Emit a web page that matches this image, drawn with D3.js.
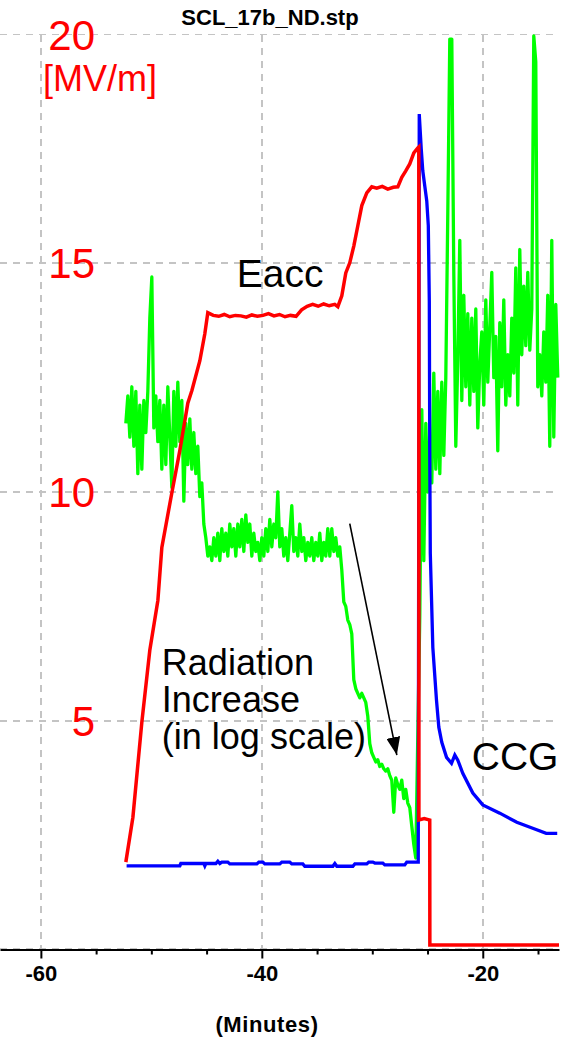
<!DOCTYPE html>
<html>
<head>
<meta charset="utf-8">
<script src="https://cdn.jsdelivr.net/npm/d3@7"></script>
<style>
  html, body { margin: 0; padding: 0; background: #fff; }
  svg { display: block; }
</style>
</head>
<body>
<svg id="chart" width="567" height="1038"></svg>
<script>
// ---- Data -------------------------------------------------------------
// Accelerating field Eacc [MV/m] vs time [minutes]
const eaccTime = [-52.31,-51.67,-50.86,-50.14,-49.41,-49.05,-48.14,-47.42,-46.70,-46.33,-45.61,-45.16,-44.89,
  -44.4,-43.9,-43.4,-42.9,-42.4,-41.9,-41.4,-40.9,-40.4,-39.9,-39.4,-38.9,-38.4,-37.9,-37.4,-36.9,-36.4,-35.9,-35.4,-34.9,-34.4,-33.9,-33.4,-33.12,
  -32.76,-32.40,-32.04,-31.67,-31.31,-30.95,-30.50,-30.05,-29.6,-29.1,-28.6,-28.1,-27.69,-27.33,-26.97,-26.61,-26.24,-25.88,-25.79,
  -25.78,-25.3,-24.80,-24.79,-13.1];
const eaccValue = [1.91,2.89,4.97,6.54,7.63,8.79,9.99,10.91,11.94,12.22,12.87,13.46,13.92,
  13.86,13.84,13.88,13.83,13.86,13.85,13.82,13.87,13.84,13.86,13.90,13.85,13.88,13.83,13.86,13.84,13.98,14.06,14.10,14.06,14.11,14.07,14.10,14.05,
  14.29,14.79,15.01,15.38,15.82,16.26,16.54,16.67,16.64,16.68,16.62,16.66,16.67,16.88,17.02,17.17,17.41,17.52,17.54,
  2.83,2.86,2.83,0.10,0.10];

// Cold cathode gauge (CCG) trace, in chart units
const ccgTime = [-52.24,-47.42,-47.33,-45.25,-45.16,-45.07,-44.16,-43.98,-43.80,-43.62,-43.08,-42.90,-40.45,-40.27,-39.91,-39.73,-38.37,-38.19,-37.47,-37.29,-36.29,-36.11,-33.57,-33.39,-33.21,-31.76,-31.58,-30.50,-30.32,-29.95,-29.77,-29.05,-28.87,-27.06,-26.88,-25.97,-25.84,
  -25.75,-25.57,-25.43,-25.25,-25.07,-24.93,-24.84,-24.80,-24.75,-24.52,-24.19,-23.98,-23.71,-23.28,-22.83,-22.53,-22.26,-21.81,-20.90,-20.00,-18.46,-16.92,-15.48,-14.26,-13.26];
const ccgValue = [1.83,1.83,1.88,1.88,1.83,1.88,1.88,1.93,1.88,1.91,1.91,1.87,1.87,1.91,1.91,1.87,1.87,1.91,1.91,1.87,1.87,1.82,1.82,1.88,1.82,1.82,1.87,1.87,1.91,1.91,1.89,1.89,1.85,1.85,1.91,1.91,1.91,
  18.26,17.50,17.02,16.69,16.36,15.82,14.18,10.91,8.66,6.60,5.45,4.86,4.53,4.20,4.07,4.25,4.14,3.85,3.42,3.16,2.98,2.78,2.65,2.54,2.54];

// Radiation monitor (log scale, chart units), logged at a fixed interval
const radSampleStep = 0.181;            // minutes between samples
const radBeforeStart = -52.31;          // first sample before the quench
const radBeforeValue = [
  11.5,12.1,11.2,12.3,11.0,12.2,10.4,11.9,10.5,12.0,11.3,12.2,13.8,14.7,11.4,12.1,11.1,12.0,10.5,11.9,10.6,12.3,11.2,10.1,12.2,11.0,12.4,11.1,12.0,
  9.8,11.5,10.6,11.6,10.5,11.3,10.4,11.0,9.9,10.2,9.3,9.0,8.6,8.8,
  8.5,9.0,8.6,9.1,8.5,9.2,8.7,9.1,8.6,9.3,8.8,9.2,8.6,9.3,8.8,9.4,8.7,9.5,8.9,9.3,8.6,9.1,8.7,8.9,8.5,9.0,8.6,9.2,8.7,9.4,8.8,9.3,9.0,10.0,
  8.8,9.2,8.6,9.0,8.5,9.1,9.7,8.7,9.0,8.6,9.3,8.7,9.0,8.5,8.9,8.6,9.0,8.5,8.9,8.6,9.1,8.5,8.9,8.6,9.2,8.6,9.2,8.7,9.0,8.6,8.8,
  8.3,7.6,7.5,7.2,7.1,6.9,5.9,5.7,5.6,5.5,5.6,5.5,5.4,5.1,4.5,4.3,4.2,4.1,4.15,4.0,4.05,3.95,3.9,3.95,3.8,3.7,3.0,3.75,3.6,3.5,3.7,3.3,3.5,3.2,3.1,2.7,2.3,2.0];
const radAfterStart = -25.70;           // first sample after the quench
const radAfterValue = [
  7.3,11.8,8.5,11.5,10.0,11.2,10.2,12.6,10.5,12.2,10.4,12.4,10.8,12.5,16.1,19.9,19.9,14.8,11.0,12.9,15.5,12.0,14.3,12.3,13.9,11.9,13.8,12.2,14.0,11.4,
  12.8,13.5,11.9,14.2,12.4,13.6,14.8,12.5,13.4,10.9,13.7,12.3,14.2,11.9,13.0,12.1,13.8,12.6,14.9,11.9,15.3,13.0,14.5,13.2,14.8,13.1,14.0,19.97,19.4,12.3,
  13.0,12.1,13.5,12.4,14.3,11.0,15.5,11.2,14.1,12.5];

// Axis ticks
const xMajorTicks = [-60, -40, -20];
const xMinorTicks = [-55, -50, -45, -35, -30, -25, -15];
const yGridTicks = [20, 15, 10, 5, 0];
const yLabelTicks = [20, 15, 10, 5];

// ---- Layout -----------------------------------------------------------
const svg = d3.select("#chart");
const FONT = "'Liberation Sans', Arial, sans-serif";
const plotLeft = 0, plotRight = 559, plotTop = 34.5, plotBottom = 949.5;

const x = d3.scaleLinear().domain([-63.7, -13.1]).range([plotLeft, plotRight]);
const y = d3.scaleLinear().domain([0, 20]).range([plotBottom, plotTop]);

svg.append("rect").attr("width", 567).attr("height", 1038).attr("fill", "#fff");

// Title
svg.append("text")
  .attr("x", 270).attr("y", 25)
  .attr("text-anchor", "middle")
  .attr("font-family", FONT).attr("font-weight", "bold").attr("font-size", 22)
  .text("SCL_17b_ND.stp");

// Grid
const grid = svg.append("g").attr("stroke", "#c4c4c4").attr("stroke-width", 1.6)
  .attr("stroke-dasharray", "7,6").attr("shape-rendering", "crispEdges");
grid.selectAll("line.h").data(yGridTicks).join("line").attr("class", "h")
  .attr("x1", plotLeft).attr("x2", plotRight)
  .attr("y1", d => y(d) - (d === 0 ? 1 : 0)).attr("y2", d => y(d) - (d === 0 ? 1 : 0));
grid.selectAll("line.v").data(xMajorTicks).join("line").attr("class", "v")
  .attr("x1", d => x(d)).attr("x2", d => x(d))
  .attr("y1", y(20)).attr("y2", y(0));

// X axis
const axisG = svg.append("g").attr("transform", `translate(0,${y(0)})`);
axisG.call(d3.axisBottom(x).tickValues(xMajorTicks).tickSize(9).tickSizeOuter(0)
  .tickPadding(7).tickFormat(d => String(d)));
axisG.select(".domain").attr("stroke", "#000").attr("stroke-width", 2);
axisG.selectAll(".tick line").attr("stroke", "#000").attr("stroke-width", 2);
axisG.selectAll(".tick text")
  .attr("font-family", FONT).attr("font-weight", "bold").attr("font-size", 22).attr("fill", "#000");

const minorG = svg.append("g").attr("transform", `translate(0,${y(0)})`);
minorG.call(d3.axisBottom(x).tickValues(xMinorTicks).tickSize(5).tickFormat(""));
minorG.select(".domain").remove();
minorG.selectAll(".tick line").attr("stroke", "#000").attr("stroke-width", 2);

svg.append("text")
  .attr("x", 267).attr("y", 1032)
  .attr("text-anchor", "middle")
  .attr("font-family", FONT).attr("font-weight", "bold").attr("font-size", 22)
  .attr("letter-spacing", 0.6)
  .text("(Minutes)");

// Y labels (red, MV/m)
svg.append("g").selectAll("text").data(yLabelTicks).join("text")
  .attr("x", 95).attr("y", d => y(d) + 15)
  .attr("text-anchor", "end")
  .attr("font-family", FONT).attr("font-size", 42).attr("fill", "#ff0000")
  .text(d => d);
svg.append("text")
  .attr("x", 43).attr("y", y(20) + 56)
  .attr("font-family", FONT).attr("font-size", 36).attr("fill", "#ff0000")
  .text("[MV/m]");

// ---- Traces -----------------------------------------------------------
const line = d3.line().x(d => x(d.t)).y(d => y(d.v));

const radiation = radBeforeValue.map((v, i) => ({ t: radBeforeStart + i * radSampleStep, v }))
  .concat(radAfterValue.map((v, i) => ({ t: radAfterStart + i * radSampleStep, v })));
const ccg = ccgTime.map((t, i) => ({ t, v: ccgValue[i] }));
const eacc = eaccTime.map((t, i) => ({ t, v: eaccValue[i] }));

svg.append("path").datum(radiation).attr("d", line)
  .attr("fill", "none").attr("stroke", "#00ff00").attr("stroke-width", 3.3).attr("stroke-linejoin", "round");
svg.append("path").datum(ccg).attr("d", line)
  .attr("fill", "none").attr("stroke", "#0000ff").attr("stroke-width", 3.3);
svg.append("path").datum(eacc).attr("d", line)
  .attr("fill", "none").attr("stroke", "#ff0000").attr("stroke-width", 3.5);

// ---- Annotations ------------------------------------------------------
svg.append("text")
  .attr("x", x(-42.26)).attr("y", y(14.47))
  .attr("font-family", FONT).attr("font-size", 39).attr("fill", "#000")
  .text("Eacc");

const radLabel = svg.append("text")
  .attr("x", x(-49.05)).attr("y", y(5.99))
  .attr("font-family", FONT).attr("font-size", 36).attr("fill", "#000");
["Radiation", "Increase", "(in log scale)"].forEach((s, i) => {
  radLabel.append("tspan").attr("x", x(-49.05)).attr("dy", i === 0 ? 0 : 37).text(s);
});

svg.append("text")
  .attr("x", x(-21.0)).attr("y", y(3.92))
  .attr("font-family", FONT).attr("font-size", 39).attr("fill", "#000")
  .text("CCG");

// Arrow from the radiation plateau down to the rising radiation
svg.append("defs").append("marker")
  .attr("id", "arrowHead").attr("viewBox", "0 0 10 10")
  .attr("refX", 10).attr("refY", 5)
  .attr("markerWidth", 18).attr("markerHeight", 14)
  .attr("markerUnits", "userSpaceOnUse")
  .attr("preserveAspectRatio", "none")
  .attr("orient", "auto")
  .append("path").attr("d", "M0,0 L10,5 L0,10 Z").attr("fill", "#000");

svg.append("line")
  .attr("x1", x(-32.04)).attr("y1", y(9.31))
  .attr("x2", x(-27.78)).attr("y2", y(4.25))
  .attr("stroke", "#000").attr("stroke-width", 1.6)
  .attr("marker-end", "url(#arrowHead)");
</script>
</body>
</html>
